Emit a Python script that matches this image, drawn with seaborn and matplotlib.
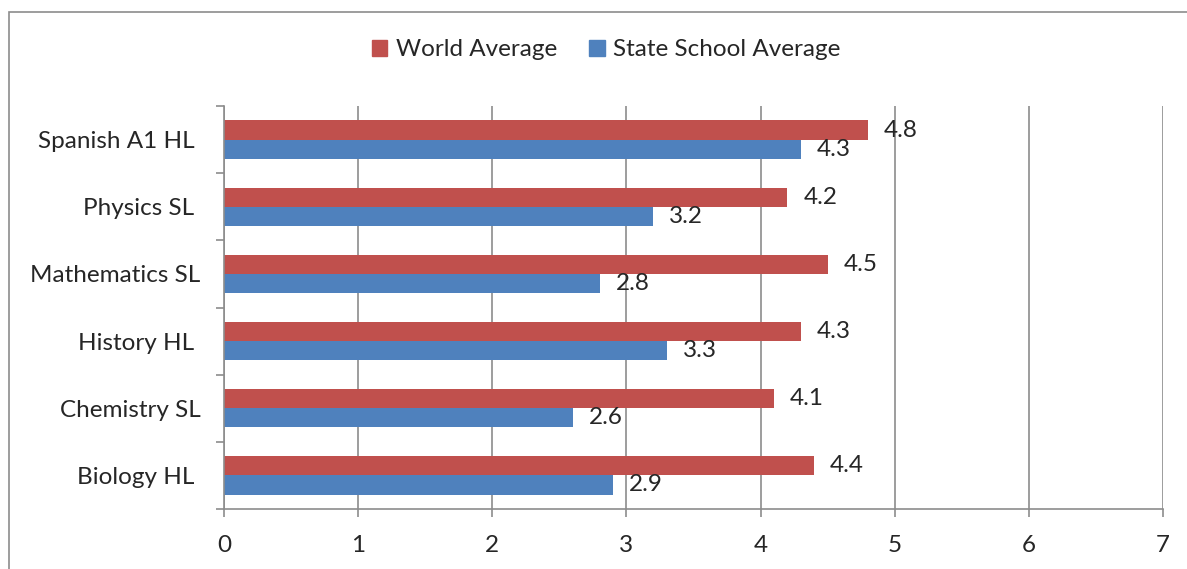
import pandas as pd
import matplotlib.pyplot as plt
import seaborn as sns
from matplotlib.patches import Rectangle
from matplotlib.ticker import FixedLocator

# data
subjects = ["Spanish A1 HL ", "Physics SL ", "Mathematics SL", "History HL ", "Chemistry SL", "Biology HL "]
world_avg = [4.8, 4.2, 4.5, 4.3, 4.1, 4.4]
state_avg = [4.3, 3.2, 2.8, 3.3, 2.6, 2.9]
series = ["World Average", "State School Average"]
colors = ["#C0504D", "#4F81BD"]

df = pd.DataFrame({
    "subject": subjects * 2,
    "score": world_avg + state_avg,
    "series": [series[0]] * len(subjects) + [series[1]] * len(subjects),
})

sns.set_style("white")
plt.rcParams["font.family"] = ["Lato", "DejaVu Sans"]
grid_col = "#8C8C8C"

fig = plt.figure(figsize=(11.87, 5.69), dpi=100)
ax = fig.add_axes([224 / 1187, 60 / 569, (1163 - 224) / 1187, (509 - 106) / 569])

sns.barplot(data=df, x="score", y="subject", hue="series", hue_order=series,
            palette=colors, orient="h", width=0.57, dodge=True, ax=ax,
            legend=False, saturation=1, linewidth=0)

for c in ax.containers:
    ax.bar_label(c, fmt="%.1f", padding=11.5, fontsize=17.5)

ax.set_xlim(0, 7)
ax.set_ylim(5.5, -0.5)
ax.set_xticks(range(8))
ax.xaxis.grid(True, color=grid_col, linewidth=1.2)
ax.set_axisbelow(True)
ax.set_xlabel("")
ax.set_ylabel("")

ax.yaxis.set_minor_locator(FixedLocator([i - 0.5 for i in range(7)]))
ax.tick_params(axis="y", which="major", length=0, pad=17, labelsize=17.5)
ax.tick_params(axis="y", which="minor", length=6, width=1.2, color=grid_col, left=True)
ax.tick_params(axis="x", length=6, width=1.2, color=grid_col, pad=13, labelsize=17.5, bottom=True)

for side in ["top", "right"]:
    ax.spines[side].set_visible(False)
for side in ["left", "bottom"]:
    ax.spines[side].set_color(grid_col)
    ax.spines[side].set_linewidth(1.2)

handles = [Rectangle((0, 0), 1, 1, color=col) for col in colors]
fig.legend(handles, series, loc="center", bbox_to_anchor=(606 / 1187, 1 - 50 / 569),
           ncol=2, frameon=False, fontsize=17.5, handlelength=0.65, handleheight=0.65,
           handletextpad=0.35, columnspacing=1.3)

# chart-area border like the original spreadsheet export
fig.patches.append(Rectangle((9 / 1187, -0.1), 1.2, 1.1 - 12 / 569, transform=fig.transFigure,
                             fill=False, edgecolor=grid_col, linewidth=1.2))

fig.savefig("out.png", dpi=100)
